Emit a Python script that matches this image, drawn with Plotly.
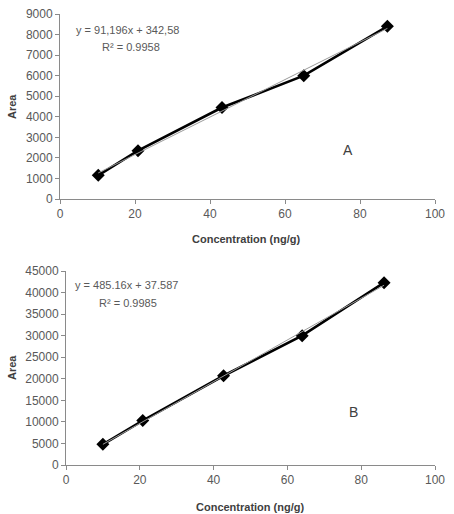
import numpy as np
import plotly.graph_objects as go

W, H = 454, 514

# Data
conc_a = [10.2, 20.8, 43.2, 65.0, 87.3]
area_a = [1150, 2350, 4450, 6000, 8400]
conc_b = [10.0, 20.8, 42.7, 64.0, 86.2]
area_b = [4800, 10300, 20700, 30000, 42300]

eq_a = ["y = 91,196x + 342,58", "R² = 0.9958"]
eq_b = ["y = 485.16x + 37.587", "R² = 0.9985"]
x_ticks = [0, 20, 40, 60, 80, 100]
y_ticks_a = [0, 1000, 2000, 3000, 4000, 5000, 6000, 7000, 8000, 9000]
y_ticks_b = [0, 5000, 10000, 15000, 20000, 25000, 30000, 35000, 40000, 45000]

FONT = "Liberation Sans, Arial, sans-serif"
AX = "#8a8a8a"
TXT = "#595959"


def px_x(p):
    return p / W


def px_y(p):
    return 1 - p / H


fig = go.Figure()


def add_panel(xs, ys, xa, ya):
    fit = np.polyfit(xs, ys, 1)
    tx = [min(xs), max(xs)]
    ty = list(np.polyval(fit, tx))
    fig.add_trace(go.Scatter(x=xs, y=ys, mode="lines+markers", xaxis=xa, yaxis=ya,
                             line=dict(color="black", width=2.6),
                             marker=dict(symbol="diamond", size=10, color="black"),
                             showlegend=False))
    fig.add_trace(go.Scatter(x=tx, y=ty, mode="lines", xaxis=xa, yaxis=ya,
                             line=dict(color="#9a9a9a", width=1),
                             showlegend=False))


add_panel(conc_a, area_a, "x", "y")
add_panel(conc_b, area_b, "x2", "y2")

common_x = dict(range=[0, 100], tickvals=x_ticks, ticktext=[str(v) for v in x_ticks],
                showgrid=False, zeroline=False, automargin=False,
                showline=True, linecolor=AX, linewidth=1, ticks="outside",
                tickcolor=AX, ticklen=4, tickfont=dict(family=FONT, size=12, color=TXT))
common_y = dict(showgrid=False, zeroline=False, showline=True, linecolor=AX, linewidth=1,
                automargin=False, ticks="outside", tickcolor=AX, ticklen=4,
                tickfont=dict(family=FONT, size=12, color=TXT))

fig.update_layout(
    template="none",
    width=W, height=H, margin=dict(l=0, r=0, t=0, b=0, pad=0),
    paper_bgcolor="white", plot_bgcolor="white",
    xaxis=dict(domain=[px_x(60), px_x(435)], anchor="y", **common_x),
    yaxis=dict(domain=[px_y(199), px_y(14)], anchor="x", range=[0, 9000],
               tickvals=y_ticks_a, ticktext=[str(v) for v in y_ticks_a], **common_y),
    xaxis2=dict(domain=[px_x(66), px_x(435)], anchor="y2", **common_x),
    yaxis2=dict(domain=[px_y(465), px_y(271)], anchor="x2", range=[0, 45000],
                tickvals=y_ticks_b, ticktext=[str(v) for v in y_ticks_b], **common_y),
)

ann = []


def text(x, y, s, size=11, bold=False, color="#404040", angle=0, xanchor="center"):
    ann.append(dict(x=px_x(x), y=px_y(y), xref="paper", yref="paper", text=("<b>%s</b>" % s) if bold else s,
                    showarrow=False, font=dict(family=FONT, size=size, color=color),
                    textangle=angle, xanchor=xanchor, yanchor="middle"))


# Panel A texts
text(74, 30, eq_a[0], size=11, color=TXT, xanchor="left")
text(100, 47, eq_a[1], size=11, color=TXT, xanchor="left")
text(348, 150, "A", size=14, color="#404040")
text(246, 239, "Concentration (ng/g)", size=11, bold=True)
text(12, 107, "Area", size=11, bold=True, angle=-90)

# Panel B texts
text(73, 285, eq_b[0], size=11, color=TXT, xanchor="left")
text(97, 303, eq_b[1], size=11, color=TXT, xanchor="left")
text(353, 412, "B", size=14, color="#404040")
text(250, 507, "Concentration (ng/g)", size=11, bold=True)
text(12, 368, "Area", size=11, bold=True, angle=-90)

fig.update_layout(annotations=ann)
fig.write_html("out.html")
